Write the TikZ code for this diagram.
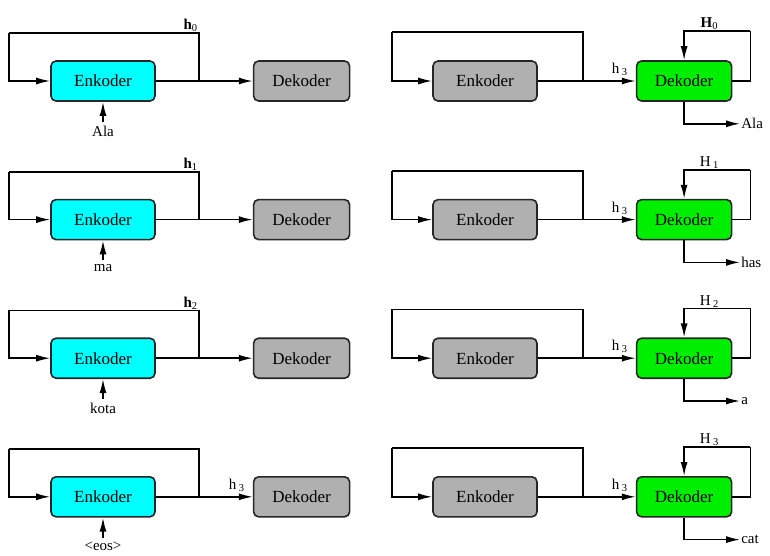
\documentclass[tikz,border=0pt]{standalone}
\usepackage{fontspec}
\setmainfont{Liberation Serif}
\usepackage{xcolor}
\usetikzlibrary{positioning, arrows.meta}

\definecolor{encCyan}{RGB}{0,255,255}
\definecolor{boxGray}{RGB}{176,176,176}
\definecolor{decGreen}{RGB}{0,238,0}

\tikzset{
  block/.style={draw=black!85, line width=1.6pt, rounded corners=5pt, minimum height=40pt,
    inner sep=0pt, font=\rmfamily\fontsize{17}{19}\selectfont},
  enkoder/.style={block, fill=encCyan, minimum width=104pt},
  enkgray/.style={block, fill=boxGray, minimum width=104pt},
  dekgray/.style={block, fill=boxGray, minimum width=96pt},
  dekoder/.style={block, fill=decGreen, minimum width=95pt},
  wire/.style={line width=1.6pt, -{Latex[length=14pt,width=7pt]}},
  loopline/.style={line width=1.5pt},
  lbl/.style={font=\rmfamily\fontsize{15}{17}\selectfont, inner sep=1pt},
  inlbl/.style={lbl, inner sep=4pt},
}

\begin{document}
\begin{tikzpicture}
    \useasboundingbox (0,0) rectangle (770pt,-555pt);

    % left column: encoder reads the sentence
    \node[enkoder] (E1) at (103pt,-81pt) {Enkoder};
    \node[dekgray] (D1) [right=97pt of E1] {Dekoder};
    \node[enkoder] (E2) [below=97pt of E1] {Enkoder};
    \node[dekgray] (D2) [right=97pt of E2] {Dekoder};
    \node[enkoder] (E3) [below=97pt of E2] {Enkoder};
    \node[dekgray] (D3) [right=97pt of E3] {Dekoder};
    \node[enkoder] (E4) [below=97pt of E3] {Enkoder};
    \node[dekgray] (D4) [right=97pt of E4] {Dekoder};

    % right column: decoder writes the translation
    \node[enkgray] (F1) at (485pt,-81pt) {Enkoder};
    \node[dekoder] (G1) [right=98pt of F1] {Dekoder};
    \node[enkgray] (F2) [below=97pt of F1] {Enkoder};
    \node[dekoder] (G2) [right=98pt of F2] {Dekoder};
    \node[enkgray] (F3) [below=97pt of F2] {Enkoder};
    \node[dekoder] (G3) [right=98pt of F3] {Dekoder};
    \node[enkgray] (F4) [below=97pt of F3] {Enkoder};
    \node[dekoder] (G4) [right=98pt of F4] {Dekoder};

    % inputs
    \node[inlbl] (x1) [below=20pt of E1] {Ala};
    \node[inlbl] (x2) [below=20pt of E2] {ma};
    \node[inlbl] (x3) [below=20pt of E3] {kota};
    \node[inlbl] (x4) [below=20pt of E4] {<eos>};

    % outputs
    \node[lbl, anchor=west] (y1) at ([xshift=56pt,yshift=-22pt]G1.south) {Ala};
    \node[lbl, anchor=west] (y2) at ([xshift=56pt,yshift=-22pt]G2.south) {has};
    \node[lbl, anchor=west] (y3) at ([xshift=56pt,yshift=-22pt]G3.south) {a};
    \node[lbl, anchor=west] (y4) at ([xshift=56pt,yshift=-22pt]G4.south) {cat};

    % loop corners
    \coordinate (j1) at ([xshift=43pt]E1.east);
    \coordinate (j2) at ([xshift=43pt]E2.east);
    \coordinate (j3) at ([xshift=43pt]E3.east);
    \coordinate (j4) at ([xshift=43pt]E4.east);
    \coordinate (t1) at ([xshift=-41pt,yshift=27pt]E1.north west);
    \coordinate (t2) at ([xshift=-41pt,yshift=27pt]E2.north west);
    \coordinate (t3) at ([xshift=-41pt,yshift=27pt]E3.north west);
    \coordinate (t4) at ([xshift=-41pt,yshift=27pt]E4.north west);

    \coordinate (k1) at ([xshift=45pt]F1.east);
    \coordinate (k2) at ([xshift=45pt]F2.east);
    \coordinate (k3) at ([xshift=45pt]F3.east);
    \coordinate (k4) at ([xshift=45pt]F4.east);
    \coordinate (s1) at ([xshift=-40pt,yshift=28pt]F1.north west);
    \coordinate (s2) at ([xshift=-40pt,yshift=28pt]F2.north west);
    \coordinate (s3) at ([xshift=-40pt,yshift=28pt]F3.north west);
    \coordinate (s4) at ([xshift=-40pt,yshift=28pt]F4.north west);

    \coordinate (u1) at ([xshift=18pt,yshift=29pt]G1.north east);
    \coordinate (u2) at ([xshift=18pt,yshift=29pt]G2.north east);
    \coordinate (u3) at ([xshift=18pt,yshift=29pt]G3.north east);
    \coordinate (u4) at ([xshift=18pt,yshift=29pt]G4.north east);

    % state labels
    \node[lbl, anchor=south east] (h0) at (j1 |- t1) {\textbf{h}\textsubscript{0}};
    \node[lbl, anchor=south east] (h1) at (j2 |- t2) {\textbf{h}\textsubscript{1}};
    \node[lbl, anchor=south east] (h2) at (j3 |- t3) {\textbf{h}\textsubscript{2}};
    \node[lbl, anchor=south east] (h3) at ([xshift=-7pt,yshift=4pt]D4.west) {h\,\textsubscript{3}};

    \node[lbl, anchor=south east] (c1) at ([xshift=-7pt,yshift=4pt]G1.west) {h\,\textsubscript{3}};
    \node[lbl, anchor=south east] (c2) at ([xshift=-7pt,yshift=4pt]G2.west) {h\,\textsubscript{3}};
    \node[lbl, anchor=south east] (c3) at ([xshift=-7pt,yshift=4pt]G3.west) {h\,\textsubscript{3}};
    \node[lbl, anchor=south east] (c4) at ([xshift=-7pt,yshift=4pt]G4.west) {h\,\textsubscript{3}};

    \node[lbl, anchor=south] (H0) at ([xshift=-41pt]u1) {\textbf{H}\textsubscript{0}};
    \node[lbl, anchor=south] (H1) at ([xshift=-41pt]u2) {H\,\textsubscript{1}};
    \node[lbl, anchor=south] (H2) at ([xshift=-41pt]u3) {H\,\textsubscript{2}};
    \node[lbl, anchor=south] (H3) at ([xshift=-41pt]u4) {H\,\textsubscript{3}};

    % left column connectors
    \draw[wire] (E1) -- (D1);
    \draw[wire] (E2) -- (D2);
    \draw[wire] (E3) -- (D3);
    \draw[wire] (E4) -- (D4);
    \draw[loopline] (j1) |- (t1);
    \draw[loopline] (j2) |- (t2);
    \draw[loopline] (j3) |- (t3);
    \draw[loopline] (j4) |- (t4);
    \draw[wire, line width=1.5pt] (t1) |- (E1.west);
    \draw[wire, line width=1.5pt] (t2) |- (E2.west);
    \draw[wire, line width=1.5pt] (t3) |- (E3.west);
    \draw[wire, line width=1.5pt] (t4) |- (E4.west);
    \draw[wire] (x1) -- (E1);
    \draw[wire] (x2) -- (E2);
    \draw[wire] (x3) -- (E3);
    \draw[wire] (x4) -- (E4);

    % right column connectors
    \draw[wire] (F1) -- (G1);
    \draw[wire] (F2) -- (G2);
    \draw[wire] (F3) -- (G3);
    \draw[wire] (F4) -- (G4);
    \draw[loopline] (k1) |- (s1);
    \draw[loopline] (k2) |- (s2);
    \draw[loopline] (k3) |- (s3);
    \draw[loopline] (k4) |- (s4);
    \draw[wire, line width=1.5pt] (s1) |- (F1.west);
    \draw[wire, line width=1.5pt] (s2) |- (F2.west);
    \draw[wire, line width=1.5pt] (s3) |- (F3.west);
    \draw[wire, line width=1.5pt] (s4) |- (F4.west);
    \draw[loopline] (G1.east) -| (u1);
    \draw[loopline] (G2.east) -| (u2);
    \draw[loopline] (G3.east) -| (u3);
    \draw[loopline] (G4.east) -| (u4);
    \draw[wire, line width=1.5pt] (u1) -| (G1.north);
    \draw[wire, line width=1.5pt] (u2) -| (G2.north);
    \draw[wire, line width=1.5pt] (u3) -| (G3.north);
    \draw[wire, line width=1.5pt] (u4) -| (G4.north);
    \draw[wire] (G1.south) |- (y1.west);
    \draw[wire] (G2.south) |- (y2.west);
    \draw[wire] (G3.south) |- (y3.west);
    \draw[wire] (G4.south) |- (y4.west);

\end{tikzpicture}
\end{document}
